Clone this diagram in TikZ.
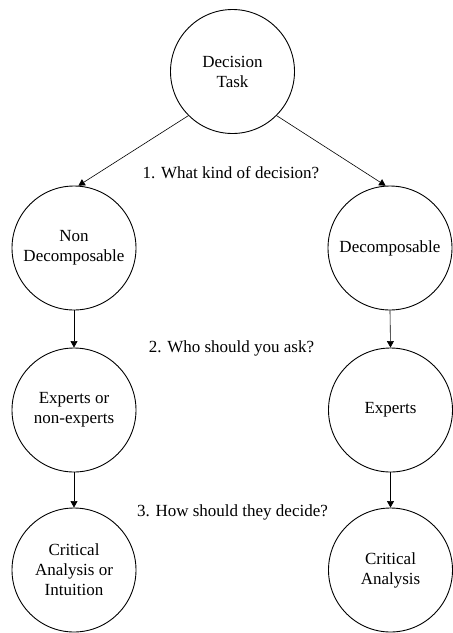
\documentclass[tikz,border=0pt]{standalone}
\usepackage{fontspec}
\setmainfont{Liberation Serif}
\usetikzlibrary{arrows.meta}
\begin{document}
\begin{tikzpicture}[x=1pt,y=-1pt,
  state/.style={circle,draw=black,line width=0.9pt,minimum size=124pt,inner sep=0pt,
    align=center,font=\fontsize{17}{20}\selectfont},
  qlabel/.style={font=\fontsize{17}{20}\selectfont,inner sep=0pt},
  link/.style={draw=black,line width=0.6pt,-{Triangle[length=6.5pt,width=7pt]}}]
\useasboundingbox (0,0) rectangle (453,633);
\node[state] (task) at (232.5,71.5) {Decision\\Task};
\node[state] (nondec) at (74,248) {Non\\Decomposable};
\node[state] (dec) at (390,248) {Decomposable};
\node[state] (mixed) at (74,410) {Experts or\\non-experts};
\node[state] (experts) at (390.5,410) {Experts};
\node[state] (caint) at (74,570) {Critical\\Analysis or\\Intuition};
\node[state] (ca) at (390.5,570) {Critical\\Analysis};
\node[qlabel] (q1) at (231,173) {1. What kind of decision?};
\node[qlabel] (q2) at (231.5,348) {2. Who should you ask?};
\node[qlabel] (q3) at (232.5,512) {3. How should they decide?};
\draw[link] (task.south west) -- (nondec.86);
\draw[link] (task.south east) -- (dec.94);
\draw[link] (nondec.south) -- (mixed.north);
\draw[link] (dec.south) -- (experts.north);
\draw[link] (mixed.south) -- (caint.north);
\draw[link] (experts.south) -- (ca.north);
\end{tikzpicture}
\end{document}
